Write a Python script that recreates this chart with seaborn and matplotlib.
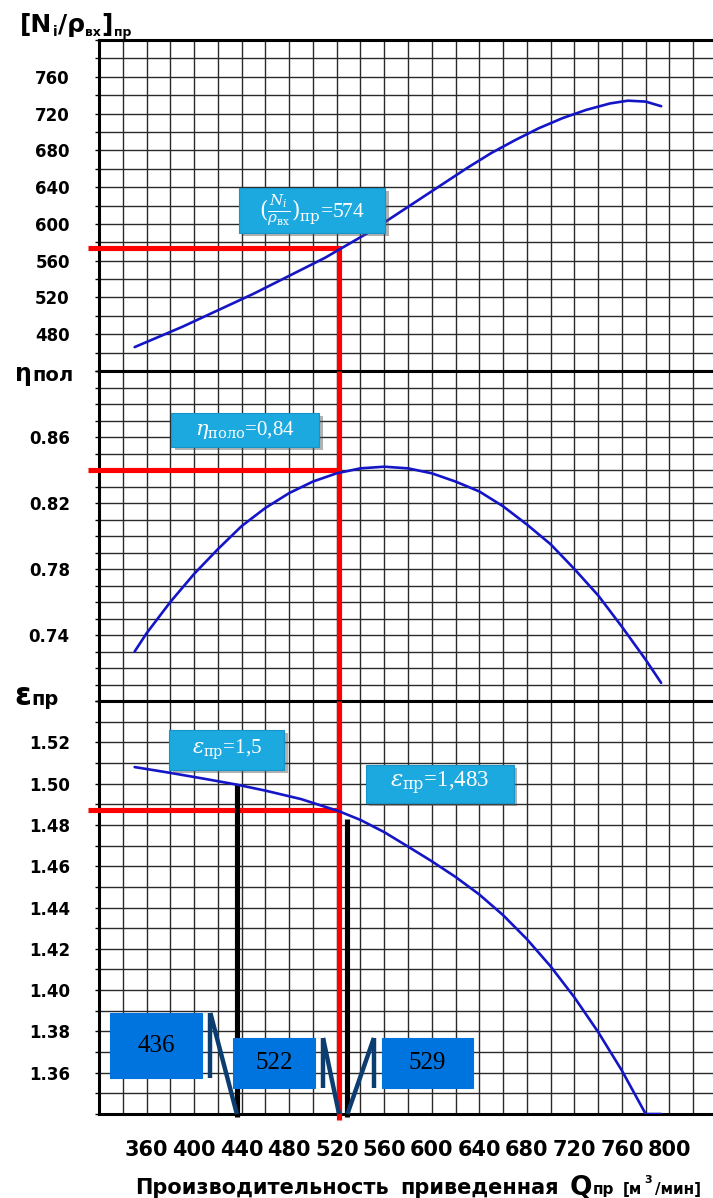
import matplotlib
matplotlib.use("Agg")
import matplotlib.pyplot as plt
import matplotlib.patheffects as pe
from matplotlib.patches import Rectangle
from matplotlib.ticker import FixedLocator, FixedFormatter, MultipleLocator
import seaborn as sns

# ---- reduced-flow compressor characteristics ----
# internal power per inlet density vs reduced flow
q_power = [350, 370, 390, 410, 430, 450, 470, 490, 510, 530, 550, 570, 590, 610,
           630, 650, 670, 690, 710, 730, 750, 765, 780, 793]
power = [466, 477, 488, 500, 512, 524, 537, 550, 563, 578, 593, 610, 627, 644,
         661, 677, 691, 704, 715, 724, 731, 734, 733, 728]

# polytropic efficiency vs reduced flow
q_eff = [350, 360, 380, 400, 420, 440, 460, 480, 500, 520, 540, 560, 580, 600,
         620, 640, 660, 680, 700, 720, 740, 760, 780, 793]
eff = [0.730, 0.741, 0.760, 0.777, 0.792, 0.806, 0.817, 0.826, 0.833, 0.838,
       0.841, 0.842, 0.841, 0.838, 0.833, 0.827, 0.818, 0.807, 0.795, 0.780,
       0.764, 0.745, 0.725, 0.711]

# pressure ratio vs reduced flow
q_eps = [350, 380, 410, 436, 460, 490, 522, 540, 560, 580, 600, 620, 640, 660,
         680, 700, 720, 740, 760, 780, 793]
eps = [1.5080, 1.5052, 1.5022, 1.4995, 1.4966, 1.4925, 1.4866, 1.4824, 1.4765,
       1.4695, 1.4624, 1.4548, 1.4463, 1.4363, 1.4247, 1.4115, 1.3965, 1.3797,
       1.3610, 1.3400, 1.3400]

# operating point
q_op = 522
power_op = 574
eff_op = 0.84
eps_op = 1.487

# marked flows and their pressure ratios
q_low, eps_low = 436, 1.5
q_high, eps_high = 529, 1.483

# tick values
x_ticks = [360, 400, 440, 480, 520, 560, 600, 640, 680, 720, 760, 800]
power_ticks = [480, 520, 560, 600, 640, 680, 720, 760]
eff_ticks = [0.74, 0.78, 0.82, 0.86]
eps_ticks = [1.36, 1.38, 1.40, 1.42, 1.44, 1.46, 1.48, 1.50, 1.52]

sns.set_theme(style="white")
plt.rcParams["font.family"] = ["DejaVu Sans"]
plt.rcParams["mathtext.fontset"] = "dejavuserif"

BLUE = "#1515C8"
RED = "#FF0000"
CYAN = "#1BA9DF"
CALLOUT = "#0074DE"
NAVY = "#0B3D70"
NARROW = ["Liberation Sans Narrow", "DejaVu Sans"]
SERIF = ["Liberation Serif", "DejaVu Serif"]

W, H = 713, 1198
fig = plt.figure(figsize=(W / 100, H / 100), dpi=100)
fig.patch.set_facecolor("white")


def frame(top_px, bottom_px, left_px=99, right_px=717):
    return fig.add_axes([left_px / W, 1 - bottom_px / H,
                         (right_px - left_px) / W, (bottom_px - top_px) / H])


ax_n = frame(40, 371)
ax_eta = frame(371, 701)
ax_eps = frame(701, 1114)

sns.lineplot(x=q_power, y=power, ax=ax_n, color=BLUE, lw=1.9,
             estimator=None, sort=False, zorder=6)
sns.lineplot(x=q_eff, y=eff, ax=ax_eta, color=BLUE, lw=1.9,
             estimator=None, sort=False, zorder=6)
sns.lineplot(x=q_eps, y=eps, ax=ax_eps, color=BLUE, lw=1.9,
             estimator=None, sort=False, zorder=6)

panels = [
    (ax_n, (440, 800), 20, power_ticks, [str(v) for v in power_ticks]),
    (ax_eta, (0.70, 0.90), 0.01, eff_ticks, [f"{v:.2f}" for v in eff_ticks]),
    (ax_eps, (1.34, 1.54), 0.01, eps_ticks, [f"{v:.2f}" for v in eps_ticks]),
]
for ax, ylim, ystep, ticks, labels in panels:
    ax.set_xlim(320, 840)
    ax.set_ylim(*ylim)
    ax.xaxis.set_major_locator(FixedLocator(x_ticks))
    ax.xaxis.set_minor_locator(MultipleLocator(20))
    ax.yaxis.set_major_locator(FixedLocator(ticks))
    ax.yaxis.set_major_formatter(FixedFormatter(labels))
    ax.yaxis.set_minor_locator(MultipleLocator(ystep))
    ax.grid(True, which="both", color="#2a2a2a", lw=1.0)
    ax.set_axisbelow(True)
    ax.set_facecolor("white")
    for s in ax.spines.values():
        s.set_color("black")
        s.set_linewidth(2.2)
    ax.tick_params(axis="y", which="both", left=True, direction="out", length=3,
                   width=1, color="black", pad=18, labelsize=12, labelcolor="black")
    ax.tick_params(axis="x", which="both", bottom=False, labelbottom=False)
    ax.set_xlabel("")
    ax.set_ylabel("")
    plt.setp(ax.get_yticklabels(), fontweight="bold")

ax_eps.tick_params(axis="x", which="major", labelbottom=True, pad=13,
                   labelsize=15, labelcolor="black", labelfontfamily=NARROW)
plt.setp(ax_eps.get_xticklabels(), fontweight="bold")


def shift(ax, x, y, dx=0.0, dy=0.0):
    """Data point moved by (dx, dy) screen pixels, dy counted downwards."""
    X, Y = ax.transData.transform((x, y))
    return ax.transData.inverted().transform((X + dx, Y - dy))


LW_MARK = 3.7

# operating point guide lines
left_edge = shift(ax_n, 320, power_op, dx=-11)[0]
ax_n.plot([left_edge, q_op], [power_op, power_op], color=RED, lw=LW_MARK,
          solid_capstyle="butt", clip_on=False, zorder=4)
ax_n.plot([q_op, q_op], [power_op, 440], color=RED, lw=LW_MARK,
          solid_capstyle="projecting", zorder=4)

ax_eta.plot([left_edge, q_op], [eff_op, eff_op], color=RED, lw=LW_MARK,
            solid_capstyle="butt", clip_on=False, zorder=4)
ax_eta.plot([q_op, q_op], [0.90, 0.70], color=RED, lw=LW_MARK,
            solid_capstyle="butt", clip_on=False, zorder=4)

ax_eps.plot([left_edge, q_op], [eps_op, eps_op], color=RED, lw=LW_MARK,
            solid_capstyle="butt", clip_on=False, zorder=4)
red_end = shift(ax_eps, q_op, 1.34, dy=6)[1]
ax_eps.plot([q_op, q_op], [1.54, red_end], color=RED, lw=LW_MARK,
            solid_capstyle="butt", clip_on=False, zorder=4)

# marked pressure ratios
for q, e in [(q_low, eps_low), (q_high, eps_high)]:
    bottom = shift(ax_eps, q, 1.34, dy=3)[1]
    ax_eps.plot([q, q], [bottom, e], color="black", lw=LW_MARK,
                solid_capstyle="butt", clip_on=False, zorder=5)


def box(ax, anchor, dx, dy, w, h, face, edge=None, shadow=False):
    cx, cy = shift(ax, anchor[0], anchor[1], dx, dy)
    x0, y0 = shift(ax, cx, cy, -w / 2, h / 2)
    x1, y1 = shift(ax, cx, cy, w / 2, -h / 2)
    rect = Rectangle((x0, y0), x1 - x0, y1 - y0, facecolor=face,
                     edgecolor=edge if edge else face, lw=0.8, clip_on=False, zorder=8)
    if shadow:
        rect.set_path_effects([pe.SimplePatchShadow(offset=(2.5, -2.5), alpha=0.45,
                                                    shadow_rgbFace="#555555"),
                               pe.Normal()])
    ax.add_patch(rect)
    return cx, cy, (x0, y0, x1, y1)


def cyan_label(ax, anchor, dx, dy, w, h, text, size):
    cx, cy, _ = box(ax, anchor, dx, dy, w, h, CYAN, edge="#1795C8", shadow=True)
    ax.text(cx, cy, text, ha="center", va="center", color="white",
            fontsize=size, fontweight="normal", family=SERIF,
            math_fontfamily="dejavuserif", zorder=9, clip_on=False)


cyan_label(ax_n, (q_op, power_op), -27, -37.5, 146, 45,
           r"$(\frac{N_i}{\rho_{\mathrm{вх}}})_{\mathrm{пр}}$" + f"={power_op}", 15.5)
cyan_label(ax_eta, (q_op, eff_op), -94, -40, 148, 34,
           r"$\eta_{\mathrm{поло}}$" + "=" + f"{eff_op:.2f}".replace(".", ","), 15)
cyan_label(ax_eps, (q_low, eps_low), -10, -33.6, 115, 40,
           r"$\varepsilon_{\mathrm{пр}}$" + "=" + f"{eps_low:.1f}".replace(".", ","), 15)
cyan_label(ax_eps, (q_high, eps_high), 92.5, -35, 148, 38,
           r"$\varepsilon_{\mathrm{пр}}$" + "=" + f"{eps_high:.3f}".replace(".", ","), 16.5)


def flow_callout(ax, q, dx, dy, w, h, bar_side):
    cx, cy, (x0, y0, x1, y1) = box(ax, (q, 1.34), dx, dy, w, h, CALLOUT)
    ax.text(cx, cy, str(q), ha="center", va="center", color="black",
            fontsize=18, fontweight="normal", family=SERIF, zorder=9, clip_on=False)
    edge = x1 if bar_side == "right" else x0
    gap = 8 if bar_side == "right" else -8
    bx = shift(ax, edge, y1, gap, 0)[0]
    ax.plot([bx, bx], [y0, y1], color=NAVY, lw=3.2, solid_capstyle="butt",
            clip_on=False, zorder=9)
    ax.plot([bx, q], [y1, 1.34], color=NAVY, lw=3.2, solid_capstyle="butt",
            clip_on=False, zorder=9)


flow_callout(ax_eps, q_low, -80.5, -68.5, 92, 65, "right")
flow_callout(ax_eps, q_op, -65, -51, 82, 50, "right")
flow_callout(ax_eps, q_high, 80, -51, 91, 50, "left")

# ---- axis titles built from text runs ----
renderer = fig.canvas.get_renderer()


def runs(x_px, base_px, parts, family, spacing=0.5):
    x = x_px
    for s, size, lift in parts:
        t = fig.text(x / W, 1 - (base_px - lift) / H, s, fontsize=size,
                     fontweight="bold", family=family, color="black",
                     ha="left", va="baseline")
        x = t.get_window_extent(renderer).x1 + spacing


runs(20, 32, [("[N", 18, 0), ("i", 10, -4), ("/ρ", 18, 0), ("вх", 9, -4),
              ("]", 18, 0), ("пр", 9, -4)], NARROW)
runs(15, 381, [("η", 17, 0), ("пол", 14, 0)], NARROW)
runs(14, 705, [("ε", 22, 0), ("пр", 14, 0)], NARROW)
runs(135, 1194, [("Производительность", 15, 0)], ["DejaVu Sans"])
runs(400, 1194, [("приведенная", 15, 0)], ["DejaVu Sans"])
runs(570, 1194, [("Q", 19, 0), ("пр", 11, 0)], NARROW)
runs(623, 1194, [("[м", 11, 0), ("3", 8, 11), ("/мин]", 11, 0)], ["DejaVu Sans"], 2.5)

fig.savefig("out.png", dpi=100, facecolor="white")
